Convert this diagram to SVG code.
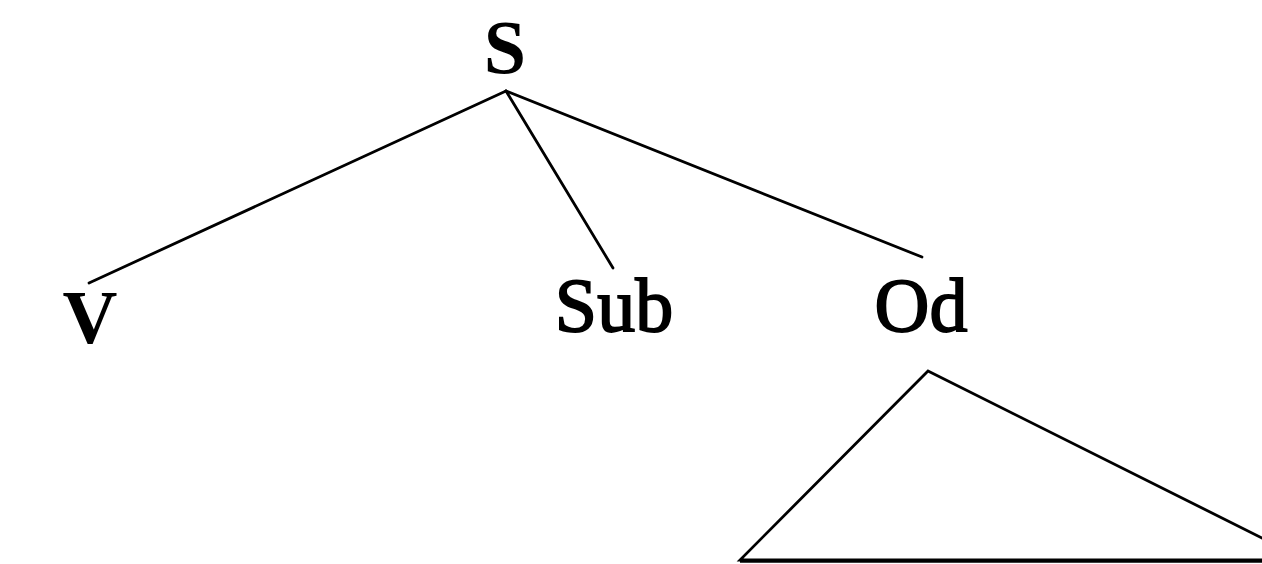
<svg xmlns="http://www.w3.org/2000/svg" width="1262" height="564" viewBox="0 0 1262 564">
<style>
.t{font-family:"Liberation Serif","Times New Roman",serif;font-size:76px;fill:#000}
.b{font-weight:bold}
.r{stroke:#000;stroke-width:1.8}
.e{stroke:#000;stroke-width:2.8;fill:none;stroke-linecap:round}
</style>
<rect width="1262" height="564" fill="#fff"/>
<g id="connectors">
<line class="e" x1="506" y1="91" x2="89" y2="283"/>
<line class="e" x1="506" y1="91" x2="613" y2="268"/>
<line class="e" x1="506" y1="91" x2="922" y2="257"/>
</g>
<g id="node-S"><text class="t b" x="505" y="73" text-anchor="middle">S</text></g>
<g id="node-V"><text class="t b" x="90" y="343" text-anchor="middle">V</text></g>
<g id="node-Sub"><text class="t r" x="614" y="331" text-anchor="middle">Sub</text></g>
<g id="node-Od"><text class="t r" x="921" y="331" text-anchor="middle">Od</text></g>
<g id="node-triangle">
<path class="e" d="M928,371 L740,560 L1262,560 M928,371 L1262,538"/>
<line x1="740" y1="561" x2="1262" y2="561" stroke="#000" stroke-width="3.5"/>
</g>
</svg>
